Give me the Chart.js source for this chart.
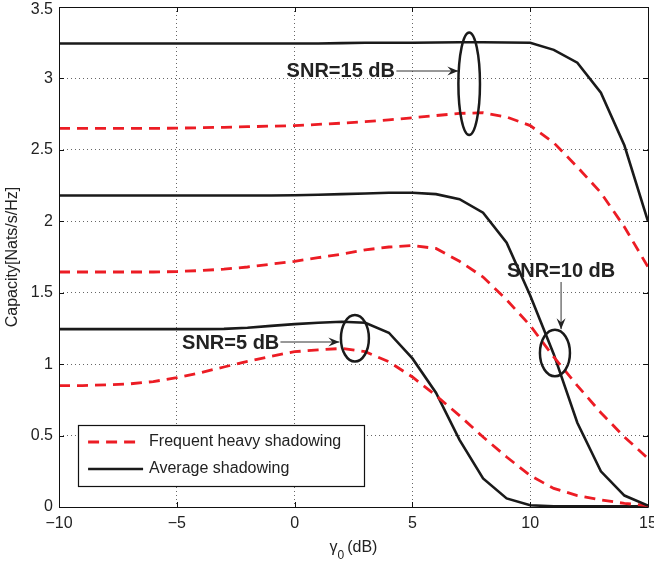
<!DOCTYPE html>
<html>
<head>
<meta charset="utf-8">
<script src="https://cdn.jsdelivr.net/npm/chart.js@4.4.1/dist/chart.umd.min.js"></script>
<style>
html, body { margin: 0; padding: 0; background: #fff; }
#wrap { width: 654px; height: 561px; }
</style>
</head>
<body>
<div id="wrap"><canvas id="chart" width="654" height="561"></canvas></div>
<script>
// gamma_0 in dB (x axis)
const gammaDb = [-10, -9, -8, -7, -6, -5, -4, -3, -2, -1, 0, 1, 2, 3, 4, 5, 6, 7, 8, 9, 10, 11, 12, 13, 14, 15]

// capacity, average shadowing (solid black)
const avg15 = [3.245, 3.245, 3.245, 3.245, 3.245, 3.245, 3.245, 3.245, 3.245, 3.245, 3.245, 3.245, 3.247, 3.25, 3.25, 3.25, 3.252, 3.253, 3.253, 3.252, 3.25, 3.2, 3.11, 2.9, 2.53, 2.0]
const avg10 = [2.18, 2.18, 2.18, 2.18, 2.18, 2.18, 2.18, 2.18, 2.18, 2.18, 2.182, 2.186, 2.19, 2.195, 2.2, 2.2, 2.19, 2.155, 2.06, 1.85, 1.48, 1.07, 0.59, 0.25, 0.08, 0.01]
const avg5 = [1.245, 1.245, 1.245, 1.245, 1.245, 1.245, 1.245, 1.247, 1.255, 1.268, 1.28, 1.29, 1.297, 1.29, 1.22, 1.04, 0.8, 0.47, 0.2, 0.06, 0.012, 0.005, 0.005, 0.005, 0.005, 0.005]

// capacity, frequent heavy shadowing (red dashed)
const heavy15 = [2.65, 2.65, 2.65, 2.65, 2.65, 2.652, 2.655, 2.658, 2.662, 2.666, 2.67, 2.678, 2.687, 2.697, 2.71, 2.725, 2.74, 2.755, 2.76, 2.73, 2.67, 2.55, 2.38, 2.2, 1.96, 1.68]
const heavy10 = [1.645, 1.645, 1.645, 1.645, 1.645, 1.648, 1.655, 1.665, 1.68, 1.7, 1.72, 1.745, 1.77, 1.8, 1.82, 1.83, 1.81, 1.72, 1.61, 1.45, 1.27, 1.05, 0.85, 0.66, 0.49, 0.34]
const heavy5 = [0.85, 0.85, 0.855, 0.862, 0.878, 0.905, 0.94, 0.98, 1.02, 1.055, 1.087, 1.1, 1.11, 1.087, 1.017, 0.91, 0.78, 0.64, 0.49, 0.35, 0.22, 0.13, 0.08, 0.05, 0.025, 0.01]

const xTicks = [-10, -5, 0, 5, 10, 15]
const yTicks = [0, 0.5, 1, 1.5, 2, 2.5, 3, 3.5]

const legendLabels = ['Frequent heavy shadowing', 'Average shadowing']

// SNR callouts (data units): ellipse centre/radii, label, arrow
const callouts = [
    { text: 'SNR=15 dB', tx: 4.26, ty: 3.047, align: 'right', ex: 7.41, ey: 2.963, rx: 0.458, ry: 0.359, a: [4.32, 3.052, 6.95, 3.052] },
    { text: 'SNR=10 dB', tx: 11.31, ty: 1.647, align: 'center', ex: 11.05, ey: 1.078, rx: 0.637, ry: 0.163, a: [11.31, 1.575, 11.31, 1.245] },
    { text: 'SNR=5 dB', tx: -0.65, ty: 1.146, align: 'right', ex: 2.56, ey: 1.181, rx: 0.594, ry: 0.163, a: [-0.6, 1.155, 1.9, 1.155] }
]

const FONT = '"Liberation Sans", Arial, Helvetica, sans-serif'
const RED = '#ec1c24'
const BLACK = '#1a1a1a'

function pts(ys) {
    return gammaDb.map((x, i) => ({ x: x, y: ys[i] }))
}

function heavySet(ys) {
    return { data: pts(ys), borderColor: RED, borderWidth: 2.8, borderDash: [11, 7], pointRadius: 0, tension: 0, fill: false }
}
function avgSet(ys) {
    return { data: pts(ys), borderColor: BLACK, borderWidth: 2.6, pointRadius: 0, tension: 0, fill: false }
}

function arrow(ctx, x1, y1, x2, y2) {
    ctx.save()
    ctx.strokeStyle = '#333'
    ctx.fillStyle = '#222'
    ctx.lineWidth = 1
    ctx.beginPath()
    ctx.moveTo(x1, y1)
    ctx.lineTo(x2, y2)
    ctx.stroke()
    const ang = Math.atan2(y2 - y1, x2 - x1)
    ctx.translate(x2, y2)
    ctx.rotate(ang)
    ctx.beginPath()
    ctx.moveTo(0, 0)
    ctx.lineTo(-11, -4.5)
    ctx.lineTo(-7, 0)
    ctx.lineTo(-11, 4.5)
    ctx.closePath()
    ctx.fill()
    ctx.restore()
}

const extras = {
    id: 'extras',
    afterDraw(chart) {
        const ctx = chart.ctx
        const xs = chart.scales.x
        const ys = chart.scales.y
        const a = chart.chartArea
        ctx.save()

        // full box and inward ticks (matlab style)
        ctx.strokeStyle = '#111'
        ctx.lineWidth = 1
        ctx.beginPath()
        ctx.rect(Math.round(a.left) + 0.5, Math.round(a.top) + 0.5, Math.round(a.right - a.left), Math.round(a.bottom - a.top))
        xTicks.forEach(v => {
            const x = Math.round(xs.getPixelForValue(v)) + 0.5
            ctx.moveTo(x, a.bottom); ctx.lineTo(x, a.bottom - 5)
            ctx.moveTo(x, a.top); ctx.lineTo(x, a.top + 5)
        })
        yTicks.forEach(v => {
            const y = Math.round(ys.getPixelForValue(v)) + 0.5
            ctx.moveTo(a.left, y); ctx.lineTo(a.left + 5, y)
            ctx.moveTo(a.right, y); ctx.lineTo(a.right - 5, y)
        })
        ctx.stroke()

        // y tick labels (top one kept inside the canvas)
        ctx.fillStyle = '#222'
        ctx.font = '16px ' + FONT
        ctx.textAlign = 'right'
        ctx.textBaseline = 'middle'
        yTicks.forEach(v => {
            ctx.fillText(String(v), a.left - 6, Math.max(ys.getPixelForValue(v), 9.5))
        })

        // callouts
        callouts.forEach(c => {
            ctx.strokeStyle = BLACK
            ctx.lineWidth = 2.5
            ctx.beginPath()
            const ex = xs.getPixelForValue(c.ex), ey = ys.getPixelForValue(c.ey)
            const rx = Math.abs(xs.getPixelForValue(c.ex + c.rx) - ex)
            const ry = Math.abs(ys.getPixelForValue(c.ey + c.ry) - ey)
            ctx.ellipse(ex, ey, rx, ry, 0, 0, Math.PI * 2)
            ctx.stroke()
            arrow(ctx, xs.getPixelForValue(c.a[0]), ys.getPixelForValue(c.a[1]), xs.getPixelForValue(c.a[2]), ys.getPixelForValue(c.a[3]))
            ctx.fillStyle = '#222'
            ctx.font = 'bold 20px ' + FONT
            ctx.textAlign = c.align
            ctx.textBaseline = 'middle'
            ctx.fillText(c.text, xs.getPixelForValue(c.tx), ys.getPixelForValue(c.ty))
        })

        // legend box
        const lx = xs.getPixelForValue(-9.19), rx = xs.getPixelForValue(2.95)
        const ty = ys.getPixelForValue(0.574), by = ys.getPixelForValue(0.147)
        ctx.fillStyle = '#fff'
        ctx.fillRect(lx, ty, rx - lx, by - ty)
        ctx.strokeStyle = '#111'
        ctx.lineWidth = 1.2
        ctx.strokeRect(Math.round(lx) + 0.5, Math.round(ty) + 0.5, Math.round(rx - lx), Math.round(by - ty))
        const rowY = [ty + 17, ty + 44]
        ctx.lineWidth = 2.8
        ctx.strokeStyle = RED
        ctx.setLineDash([11, 7])
        ctx.beginPath(); ctx.moveTo(lx + 10, rowY[0]); ctx.lineTo(lx + 63, rowY[0]); ctx.stroke()
        ctx.setLineDash([])
        ctx.strokeStyle = BLACK
        ctx.lineWidth = 2.6
        ctx.beginPath(); ctx.moveTo(lx + 10, rowY[1]); ctx.lineTo(lx + 65, rowY[1]); ctx.stroke()
        ctx.fillStyle = '#222'
        ctx.font = '16px ' + FONT
        ctx.textAlign = 'left'
        ctx.textBaseline = 'middle'
        ctx.fillText(legendLabels[0], lx + 71, rowY[0])
        ctx.fillText(legendLabels[1], lx + 71, rowY[1])

        // axis titles
        ctx.fillStyle = '#222'
        ctx.textBaseline = 'alphabetic'
        const cx = (a.left + a.right) / 2
        ctx.font = '16px ' + FONT
        const w1 = ctx.measureText('\u03b3').width
        ctx.font = '12px ' + FONT
        const w2 = ctx.measureText('0').width
        ctx.font = '16px ' + FONT
        const w3 = ctx.measureText('(dB)').width
        let x0 = cx - (w1 + w2 + 3 + w3) / 2
        ctx.textAlign = 'left'
        ctx.fillText('\u03b3', x0, 552)
        ctx.font = '12px ' + FONT
        ctx.fillText('0', x0 + w1, 559)
        ctx.font = '16px ' + FONT
        ctx.fillText('(dB)', x0 + w1 + w2 + 3, 552)

        ctx.translate(13, (a.top + a.bottom) / 2)
        ctx.rotate(-Math.PI / 2)
        ctx.textAlign = 'center'
        ctx.textBaseline = 'middle'
        ctx.fillText('Capacity[Nats/s/Hz]', 0, 0)
        ctx.restore()
    }
}

const tickFont = { family: FONT, size: 16 }

new Chart(document.getElementById('chart'), {
    type: 'line',
    data: {
        datasets: [heavySet(heavy15), avgSet(avg15), heavySet(heavy10), avgSet(avg10), heavySet(heavy5), avgSet(avg5)]
    },
    options: {
        responsive: false,
        devicePixelRatio: 1,
        animation: false,
        layout: { padding: { top: 7, right: 6, left: 0, bottom: 0 } },
        plugins: { legend: { display: false }, tooltip: { enabled: false } },
        scales: {
            x: {
                type: 'linear',
                min: -10,
                max: 15,
                afterBuildTicks: s => { s.ticks = xTicks.map(v => ({ value: v })) },
                afterFit: s => { s.height = 54; s.paddingLeft = 0; s.paddingRight = 0 },
                ticks: {
                    font: tickFont,
                    color: '#222',
                    padding: 7,
                    maxRotation: 0,
                    callback: v => v < 0 ? '\u2212' + Math.abs(v) : String(v)
                },
                grid: { color: '#666', lineWidth: 1, drawTicks: false },
                border: { display: false, dash: [1, 3] }
            },
            y: {
                min: 0,
                max: 3.5,
                afterBuildTicks: s => { s.ticks = yTicks.map(v => ({ value: v })) },
                afterFit: s => { s.width = 59; s.paddingTop = 0; s.paddingBottom = 0 },
                ticks: { display: false },
                grid: { color: '#666', lineWidth: 1, drawTicks: false },
                border: { display: false, dash: [1, 3] }
            }
        }
    },
    plugins: [extras]
})
</script>
</body>
</html>
